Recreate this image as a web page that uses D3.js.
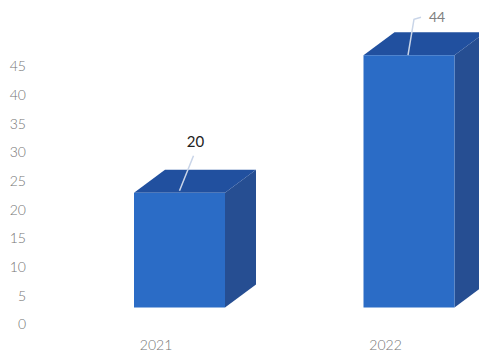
<!DOCTYPE html>
<html><head><meta charset="utf-8">
<script src="https://cdn.jsdelivr.net/npm/d3@7"></script>
<style>html,body{margin:0;padding:0;background:#fff}svg{display:block}</style>
</head><body><div id="c"></div>
<script>
const categories = ["2021","2022"];
const values = [20,44];
const tickValues = [0,5,10,15,20,25,30,35,40,45];
const W=479,H=353;
const svg=d3.select("#c").append("svg").attr("width",W).attr("height",H);
const font="Lato, 'Open Sans', sans-serif";
const y=d3.scaleLinear().domain([0,45]).range([324,66]);
const cx=d3.scalePoint().domain(categories).range([179.5,409]);
const barW=91, baseOff=-16.5, dx=31, dy=-23;
const axis=d3.axisLeft(y).tickValues(tickValues).tickSize(0).tickPadding(0);
const gy=svg.append("g").attr("transform","translate(26,0)").call(axis);
gy.select(".domain").remove();
gy.selectAll("text").attr("font-family",font).attr("font-size",14).attr("font-weight",300).attr("fill","#757575").attr("dy","0.35em");
const axX=d3.axisBottom(cx).tickSize(0).tickPadding(0);
const gx=svg.append("g").attr("transform","translate(-24,340.5)").call(axX);
gx.select(".domain").remove();
gx.selectAll("text").attr("font-family",font).attr("font-size",14).attr("font-weight",300).attr("fill","#757575").attr("dy","0.71em");
const bars=svg.selectAll("g.bar").data(categories.map((c,i)=>({c,v:values[i]}))).join("g").attr("class","bar");
const pts=a=>a.map(p=>p.join(",")).join(" ");
bars.each(function(d){
 const g=d3.select(this),l=cx(d.c)-barW/2,r=l+barW,b=y(0)+baseOff,t=y(d.v)+baseOff;
 g.append("polygon").attr("points",pts([[r,t],[r+dx,t+dy],[r+dx,b+dy],[r,b]])).attr("fill","#264e92");
 g.append("polygon").attr("points",pts([[l,t],[l+dx,t+dy],[r+dx,t+dy],[r,t]])).attr("fill","#21509f");
 g.append("rect").attr("x",l).attr("y",t).attr("width",barW).attr("height",b-t).attr("fill","#2b6cc6");
});
const labels=svg.selectAll("g.lab").data(categories.map((c,i)=>({c,v:values[i],i}))).join("g").attr("class","lab");
const labDark=["#222222","#808080"];
labels.each(function(d){
 const g=d3.select(this),c=cx(d.c),t=y(d.v)-16.5;
 if(d.i===0){
  g.append("path").attr("d",`M${c},${t-2} L${c+14},${t-37}`);
  g.append("text").attr("x",c+16).attr("y",t-51);
 } else {
  g.append("path").attr("d",`M${c-1},${t} L${c+5},${t-36} L${c+12},${t-38}`);
  g.append("text").attr("x",c+28).attr("y",t-38);
 }
 g.select("path").attr("fill","none").attr("stroke","#c9d5e8").attr("stroke-width",1.5);
 g.select("text").text(d.v).attr("text-anchor","middle").attr("dy","0.35em").attr("font-family",font).attr("font-size",d.i===0?15:14).attr("fill",labDark[d.i]);
});
</script></body></html>
